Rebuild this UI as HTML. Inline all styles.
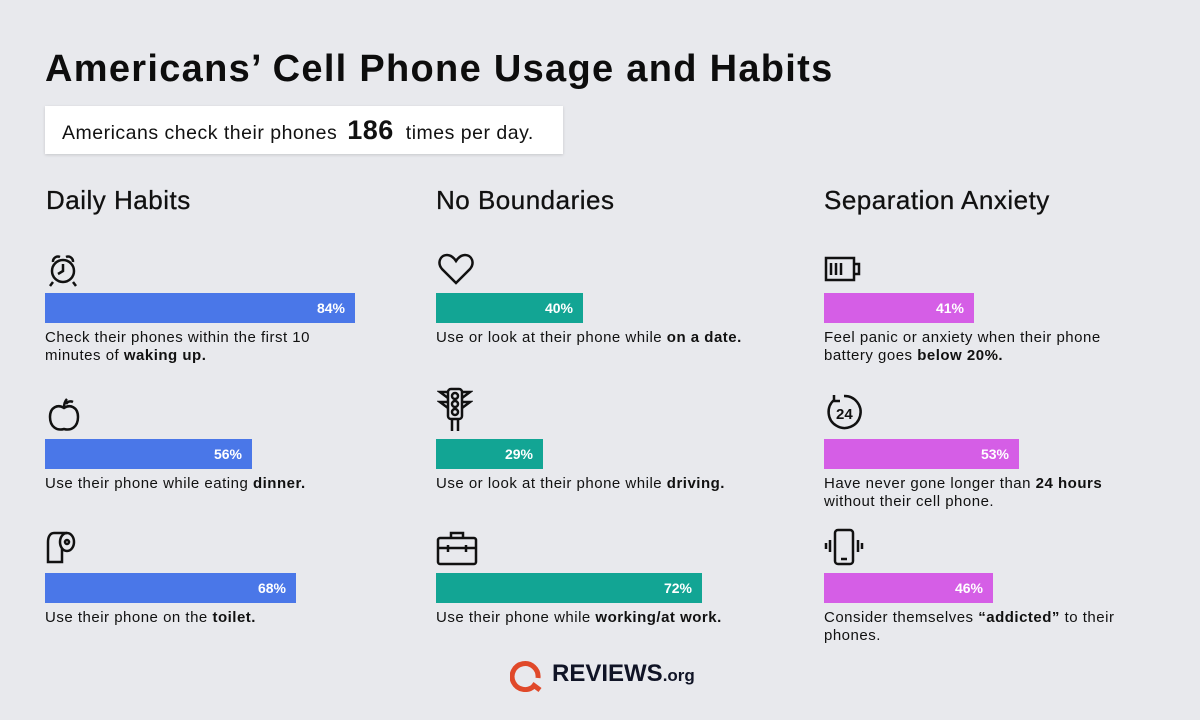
<!DOCTYPE html>
<html><head><meta charset="utf-8"><style>
*{margin:0;padding:0;box-sizing:border-box}
body{width:1200px;height:720px;background:#e8e9ed;font-family:"Liberation Sans",sans-serif;color:#111;position:relative;overflow:hidden}
.a{position:absolute}
h1{position:absolute;left:45px;top:48px;font-size:38px;font-weight:900;letter-spacing:1.3px;color:#0d0d0d}
.box{left:45px;top:106px;width:518px;height:48px;background:#fff;box-shadow:0 1px 3px rgba(0,0,0,.15);font-size:19.5px;letter-spacing:0.5px;line-height:48px;padding-left:17px}
.box b{font-size:27px;margin:0 12px 0 10px}
.h{font-size:26px;top:185px;letter-spacing:0.5px;-webkit-text-stroke:0.3px #111}
.bar{height:30px;color:#fff;font-weight:bold;font-size:14px;text-align:right;padding-right:10px;line-height:30px}
.bl{background:#4a77e8}.tl{background:#12a594}.mg{background:#d55ee6}
.t{font-size:15px;line-height:18px;width:300px;letter-spacing:0.5px}
svg{position:absolute;fill:none;stroke:#111;stroke-width:2.5}
</style></head><body>
<h1>Americans’ Cell Phone Usage and Habits</h1>
<div class="a box">Americans check their phones<b>186</b>times per day.</div>
<div class="a h" style="left:46px">Daily Habits</div>
<div class="a h" style="left:436px">No Boundaries</div>
<div class="a h" style="left:824px">Separation Anxiety</div>

<svg style="left:45px;top:252px" width="36" height="36"><circle cx="18" cy="19" r="11"/><path d="M18 12v7l-5 3M8 30l-3 4M28 30l3 4M8 10a5 5 0 0 1 7-5M28 10a5 5 0 0 0-7-5"/></svg>
<div class="a bar bl" style="left:45px;top:293px;width:310px">84%</div>
<div class="a t" style="left:45px;top:329px">Check their phones within the first 10 minutes of <b>waking up.</b></div>

<svg style="left:47px;top:396px" width="34" height="38"><path d="M17 12c-6-4-14-1-14 9s7 14 14 12c7 2 14-2 14-12s-8-13-14-9zM17 12c0-4 1-7 3-9M19 8c2-3 5-3 7-2"/></svg>
<div class="a bar bl" style="left:45px;top:439px;width:207px">56%</div>
<div class="a t" style="left:45px;top:475px;width:360px">Use their phone while eating <b>dinner.</b></div>

<svg style="left:45px;top:530px" width="32" height="38"><ellipse cx="22" cy="12" rx="7" ry="9"/><circle cx="22" cy="12" r="2"/><path d="M22 3H9C5 3 3 7 3 12v20h14V18"/></svg>
<div class="a bar bl" style="left:45px;top:573px;width:251px">68%</div>
<div class="a t" style="left:45px;top:609px;width:360px">Use their phone on the <b>toilet.</b></div>

<svg style="left:437px;top:252px" width="38" height="34"><path d="M19 31L5 17C0 11 3 3 10 3c4 0 7 3 9 6 2-3 5-6 9-6 7 0 10 8 5 14z"/></svg>
<div class="a bar tl" style="left:436px;top:293px;width:147px">40%</div>
<div class="a t" style="left:436px;top:329px;width:370px">Use or look at their phone while <b>on a date.</b></div>

<svg style="left:437px;top:386px" width="36" height="48"><rect x="11" y="3" width="14" height="30" rx="3"/><circle cx="18" cy="10" r="3"/><circle cx="18" cy="18" r="3"/><circle cx="18" cy="26" r="3"/><path d="M11 6H3l8 6M11 16H3l8 6M25 6h8l-8 6M25 16h8l-8 6M15 33v12M21 33v12"/></svg>
<div class="a bar tl" style="left:436px;top:439px;width:107px">29%</div>
<div class="a t" style="left:436px;top:475px;width:370px">Use or look at their phone while <b>driving.</b></div>

<svg style="left:436px;top:530px" width="42" height="36"><rect x="2" y="8" width="38" height="26" rx="2"/><path d="M15 8V3h12v5M2 18h38M12 15v7M30 15v7"/></svg>
<div class="a bar tl" style="left:436px;top:573px;width:266px">72%</div>
<div class="a t" style="left:436px;top:609px;width:370px">Use their phone while <b>working/at work.</b></div>

<svg style="left:824px;top:256px" width="38" height="26"><rect x="2" y="2" width="28" height="22"/><path d="M30 8h5v10h-5M7 7v12M12 7v12M17 7v12"/></svg>
<div class="a bar mg" style="left:824px;top:293px;width:150px">41%</div>
<div class="a t" style="left:824px;top:329px">Feel panic or anxiety when their phone battery goes <b>below 20%.</b></div>

<svg style="left:824px;top:392px" width="42" height="40"><path d="M10 8A16 16 0 1 0 20 4M10 3v6h6"/><text x="12" y="27" font-size="15" font-weight="bold" fill="#111" stroke="none" font-family="Liberation Sans">24</text></svg>
<div class="a bar mg" style="left:824px;top:439px;width:195px">53%</div>
<div class="a t" style="left:824px;top:475px">Have never gone longer than <b>24 hours</b> without their cell phone.</div>

<svg style="left:822px;top:528px" width="44" height="40"><rect x="13" y="2" width="18" height="34" rx="3"/><path d="M19 31h6M8 12v12M4 15v6M36 12v12M40 15v6"/></svg>
<div class="a bar mg" style="left:824px;top:573px;width:169px">46%</div>
<div class="a t" style="left:824px;top:609px">Consider themselves <b>“addicted”</b> to their phones.</div>

<svg style="left:510px;top:656px" width="36" height="36"><path d="M24 30A13 13 0 1 1 28 22" stroke="#e0492a" stroke-width="5"/><path d="M22 28l8 6" stroke="#e0492a" stroke-width="5"/></svg>
<div class="a" style="left:552px;top:660px;font-size:24px;font-weight:900;color:#101426">REVIEWS<span style="font-size:17px;font-weight:bold">.org</span></div>
</body></html>
